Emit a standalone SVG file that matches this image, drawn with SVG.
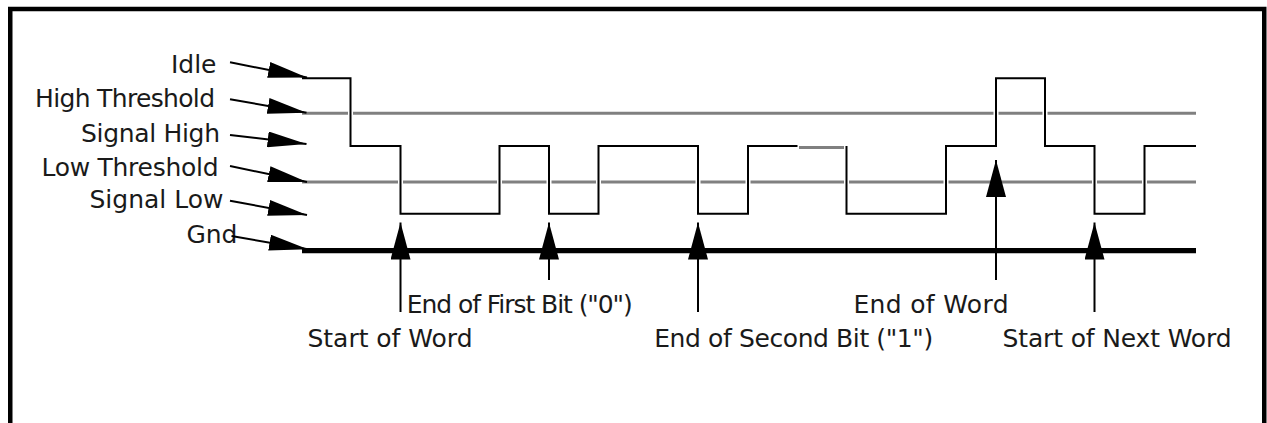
<svg xmlns="http://www.w3.org/2000/svg" width="1267" height="423" viewBox="0 0 1267 423">
  <style>
    .lbl { font-family: "DejaVu Sans", "Liberation Sans", sans-serif; font-size: 25px; fill: #1a1a1a; }
    .end { text-anchor: end; }
    .thr { stroke: #808080; stroke-width: 3; fill: none; }
    .sig { stroke: #000; stroke-width: 2; fill: none; stroke-linejoin: miter; }
    .sig-gap { stroke: #fff; stroke-width: 5; fill: none; }
    .lead { stroke: #000; stroke-width: 2; fill: none; marker-end: url(#head-lead); }
    .mark { stroke: #000; stroke-width: 2; fill: none; marker-end: url(#head-up); }
  </style>
  <defs>
    <marker id="head-lead" markerUnits="userSpaceOnUse" viewBox="0 0 39 16" markerWidth="39" markerHeight="16" refX="39" refY="8" orient="auto">
      <path d="M0,0 L39,8 L0,16 Z" fill="#000"/>
    </marker>
    <marker id="head-up" markerUnits="userSpaceOnUse" viewBox="0 0 37 20" markerWidth="37" markerHeight="20" refX="37" refY="10" orient="auto">
      <path d="M0,0 L37,10 L0,20 Z" fill="#000"/>
    </marker>
  </defs>

  <rect id="frame" x="10.25" y="9" width="1254" height="440" fill="none" stroke="#000" stroke-width="4.5"/>

  <!-- reference levels -->
  <g id="levels">
    <line class="thr" x1="302" y1="113.3" x2="1196" y2="113.3"/>
    <line class="thr" x1="302" y1="182" x2="1196" y2="182"/>
    <line x1="302" y1="250.7" x2="1196" y2="250.7" stroke="#000" stroke-width="5.3"/>
    <line class="thr" x1="799" y1="147.5" x2="844.5" y2="147.5"/>
  </g>

  <!-- serial waveform -->
  <g id="waveform">
    <path class="sig-gap" d="M302,78.3 H350.5 V146 H400.5 V213.8 H499.5 V146 H549 V213.8 H598.5 V146 H698 V213.8 H748 V146 H797.5 M846.5,146 V213.8 H946 V146 H996 V78.3 H1045 V146 H1094.5 V213.8 H1144.5 V146 H1196"/>
    <path class="sig" d="M302,78.3 H350.5 V146 H400.5 V213.8 H499.5 V146 H549 V213.8 H598.5 V146 H698 V213.8 H748 V146 H797.5 M846.5,146 V213.8 H946 V146 H996 V78.3 H1045 V146 H1094.5 V213.8 H1144.5 V146 H1196"/>
  </g>

  <!-- level labels -->
  <g id="label-idle"><text class="lbl end" x="216.5" y="73.3">Idle</text></g>
  <g id="label-high-threshold"><text class="lbl end" x="215" y="107.3" textLength="180">High Threshold</text></g>
  <g id="label-signal-high"><text class="lbl end" x="220" y="141.5" textLength="139">Signal High</text></g>
  <g id="label-low-threshold"><text class="lbl end" x="218.5" y="175.6" textLength="177">Low Threshold</text></g>
  <g id="label-signal-low"><text class="lbl end" x="223.5" y="207.5" textLength="134">Signal Low</text></g>
  <g id="label-gnd"><text class="lbl end" x="237.5" y="242.7">Gnd</text></g>

  <!-- event labels -->
  <g id="label-start-of-word"><text class="lbl" x="307.5" y="346.7" textLength="165">Start of Word</text></g>
  <g id="label-end-first-bit"><text class="lbl" x="406.8" y="313.3" textLength="226">End of First Bit ("0")</text></g>
  <g id="label-end-second-bit"><text class="lbl" x="654.2" y="346.7" textLength="279">End of Second Bit ("1")</text></g>
  <g id="label-end-of-word"><text class="lbl" x="853.5" y="313.3" textLength="155">End of Word</text></g>
  <g id="label-start-next-word"><text class="lbl" x="1002.5" y="346.7" textLength="229">Start of Next Word</text></g>

  <!-- pointer arrows -->
  <g id="connectors">
    <line class="lead" x1="230" y1="62.3" x2="307" y2="77.5"/>
    <line class="lead" x1="230" y1="99.3" x2="306.5" y2="112.7"/>
    <line class="lead" x1="230" y1="135" x2="306.5" y2="144"/>
    <line class="lead" x1="230" y1="166" x2="307" y2="182"/>
    <line class="lead" x1="230" y1="200.7" x2="307" y2="215"/>
    <line class="lead" x1="231.5" y1="236" x2="308" y2="249.3"/>

    <line class="mark" x1="400.5" y1="312" x2="400.5" y2="222.5"/>
    <line class="mark" x1="549" y1="280" x2="549" y2="222.5"/>
    <line class="mark" x1="698" y1="312" x2="698" y2="222.5"/>
    <line class="mark" x1="996" y1="280" x2="996" y2="160"/>
    <line class="mark" x1="1094.5" y1="312" x2="1094.5" y2="222.5"/>
  </g>
</svg>
